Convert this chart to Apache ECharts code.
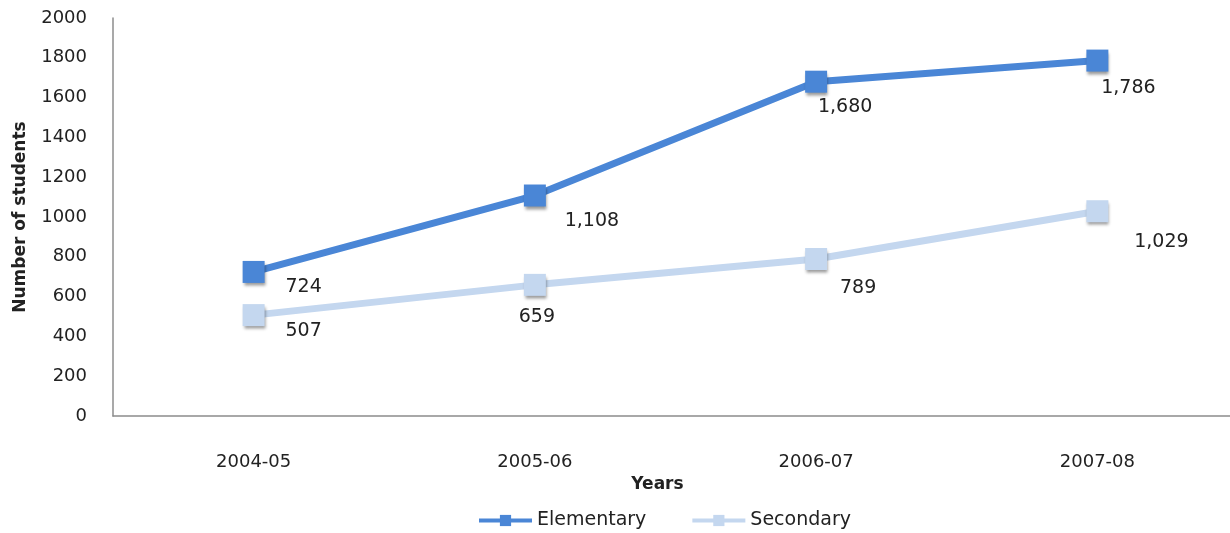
<!DOCTYPE html>
<html><head><meta charset="utf-8">
<script src="https://cdn.jsdelivr.net/npm/echarts@6/dist/echarts.min.js"></script>
<style>html,body{margin:0;padding:0;background:#fff}#c{width:1230px;height:533px}</style>
</head><body><div id="c"></div>
<script>
const categories = ['2004-05','2005-06','2006-07','2007-08'];
const elementary = [724, 1108, 1680, 1786];
const secondary = [507, 659, 789, 1029];
const yTicks = [0, 200, 400, 600, 800, 1000, 1200, 1400, 1600, 1800, 2000];

const elemOffsets = [[50,15],[57,26],[29,25],[31,27]];
const secOffsets = [[50,16],[2,32],[42,29],[64,31]];

const fmt = v => v.toLocaleString('en-US');
const font = 'DejaVu Sans';
function build(vals, offs){
  return vals.map((v,i)=>({value:v, label:{offset:offs[i]}}));
}
const shadow = {shadowColor:'rgba(0,0,0,0.4)', shadowBlur:3, shadowOffsetX:1, shadowOffsetY:3};

const chart = echarts.init(document.getElementById('c'));
chart.setOption({
  animation:false,
  grid:{left:113, top:18, width:1125, height:398, outerBoundsMode:'none'},
  xAxis:{type:'category', data:categories, boundaryGap:true,
    axisLine:{lineStyle:{color:'#8c8c8c', width:1.5}}, axisTick:{show:false},
    axisLabel:{color:'#222', fontFamily:font, fontSize:18, margin:37},
    name:'Years', nameLocation:'middle', nameGap:58,
    nameTextStyle:{color:'#222', fontFamily:font, fontSize:17, fontWeight:'bold', padding:[0,36,0,0]}},
  yAxis:{type:'value', min:0, max:2000, interval:200,
    axisLine:{show:true, lineStyle:{color:'#8c8c8c', width:1.5}}, axisTick:{show:false},
    splitLine:{show:false},
    axisLabel:{color:'#222', fontFamily:font, fontSize:18, margin:26,
      formatter:v=> yTicks.includes(v)? String(v):''},
    name:'Number of students', nameLocation:'middle', nameGap:84,
    nameTextStyle:{color:'#222', fontFamily:font, fontSize:17, fontWeight:'bold'}},
  legend:{bottom:-2, left:472, itemWidth:53, itemHeight:14, itemGap:44,
    lineStyle:{width:4}, itemStyle:{shadowBlur:0, shadowOffsetX:0, shadowOffsetY:0},
    textStyle:{color:'#222', fontFamily:font, fontSize:19},
    data:['Elementary','Secondary']},
  series:[
    {name:'Elementary', type:'line', data:build(elementary, elemOffsets),
      symbol:'rect', symbolSize:22,
      lineStyle:{color:'#4A86D6', width:7},
      itemStyle:{color:'#4A86D6', ...shadow},
      label:{show:true, position:'inside', color:'#222', fontFamily:font, fontSize:19,
        formatter:p=>fmt(p.value)}},
    {name:'Secondary', type:'line', data:build(secondary, secOffsets),
      symbol:'rect', symbolSize:22,
      lineStyle:{color:'#C4D7EF', width:7},
      itemStyle:{color:'#C4D7EF', ...shadow},
      label:{show:true, position:'inside', color:'#222', fontFamily:font, fontSize:19,
        formatter:p=>fmt(p.value)}}
  ]
});
</script></body></html>
